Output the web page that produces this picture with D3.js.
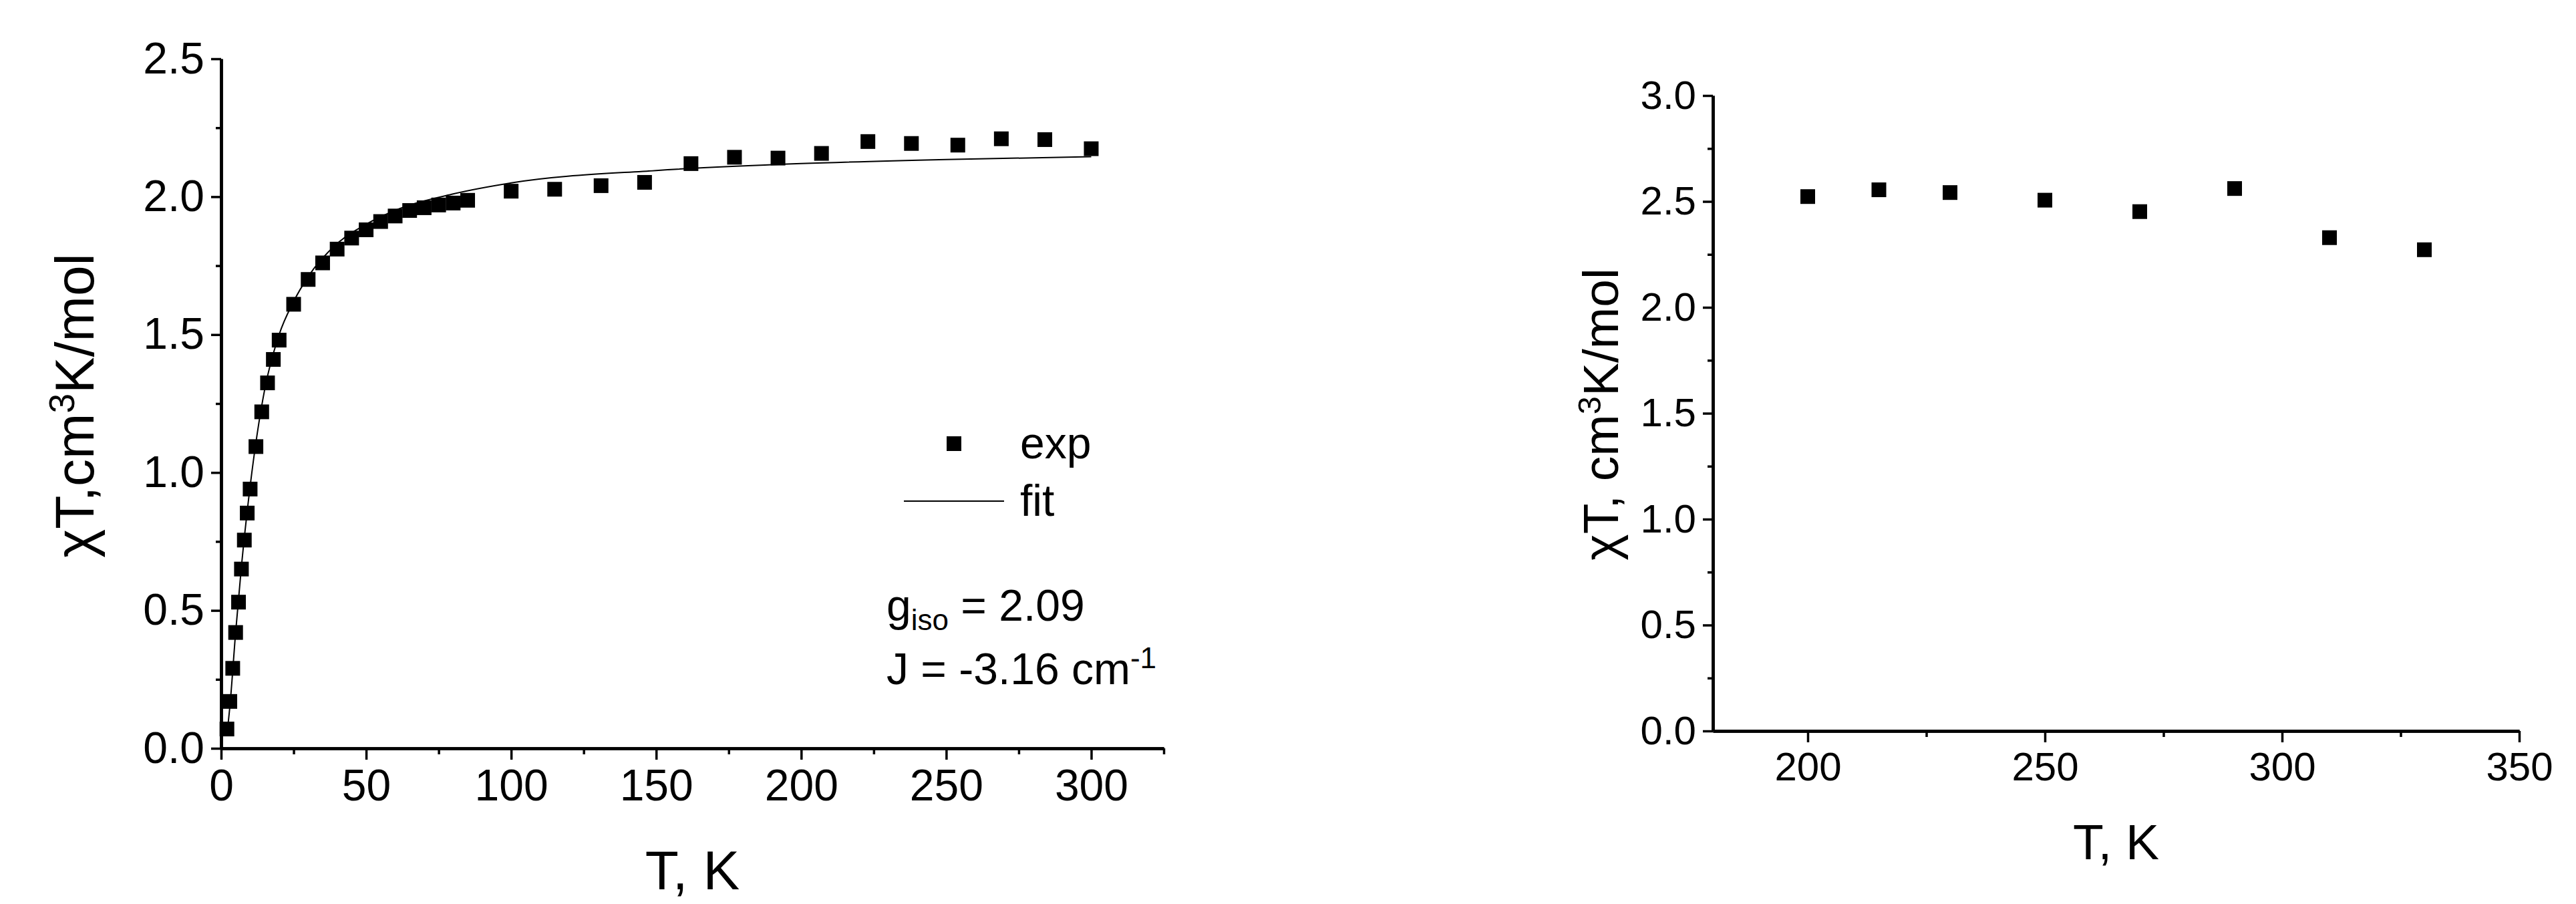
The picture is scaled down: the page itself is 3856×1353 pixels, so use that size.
<!DOCTYPE html>
<html><head><meta charset="utf-8">
<script src="https://cdn.jsdelivr.net/npm/d3@7"></script>
<style>body{margin:0;background:#fff}text{font-family:"Liberation Sans",Arial,sans-serif;fill:#000}</style>
</head><body>
<svg id="c" width="3856" height="1353"></svg>
<script>
const expT = [2,3,4,5,6,7,8,9,10,12,14,16,18,20,25,30,35,40,45,50,55,60,65,70,75,80,85,100,115,131,146,162,177,192,207,223,238,254,269,284,300];
const expChiT = [0.07,0.17,0.29,0.42,0.53,0.65,0.755,0.853,0.94,1.094,1.22,1.325,1.41,1.48,1.61,1.70,1.76,1.81,1.85,1.88,1.91,1.93,1.95,1.96,1.97,1.977,1.987,2.02,2.027,2.04,2.052,2.12,2.143,2.14,2.157,2.20,2.193,2.187,2.21,2.207,2.174];
const fitT = [2,3,5,7,10,15,20,25,30,40,50,60,80,100,150,200,250,300];
const fitChiT = [0.05,0.15,0.42,0.66,0.95,1.3,1.5,1.62,1.71,1.83,1.9,1.95,2.01,2.05,2.095,2.12,2.135,2.145];
const hiT = [200,215,230,250,270,290,310,330];
const hiChiT = [2.523,2.555,2.542,2.506,2.452,2.561,2.329,2.272];
const leftXTicks = [0,50,100,150,200,250,300];
const leftYTicks = [0,0.5,1,1.5,2,2.5];
const rightXTicks = [200,250,300,350];
const rightYTicks = [0,0.5,1,1.5,2,2.5,3];

const svg = d3.select("#c");

function panel(o){
  const g = svg.append("g");
  const x = d3.scaleLinear().domain(o.xd).range([o.x0,o.x1]);
  const y = d3.scaleLinear().domain(o.yd).range([o.y0,o.y1]);
  const xa = g.append("g").attr("transform",`translate(0,${o.y0})`)
    .call(d3.axisBottom(x).tickValues(o.xt).tickSize(17).tickPadding(14).tickSizeOuter(0).tickFormat(d3.format("d")));
  const xm = g.append("g").attr("transform",`translate(0,${o.y0})`)
    .call(d3.axisBottom(x).tickValues(o.xm).tickSize(9).tickFormat("").tickSizeOuter(0));
  const ya = g.append("g").attr("transform",`translate(${o.x0},0)`)
    .call(d3.axisLeft(y).tickValues(o.yt).tickSize(15).tickPadding(10).tickSizeOuter(0).tickFormat(d3.format(".1f")));
  const ym = g.append("g").attr("transform",`translate(${o.x0},0)`)
    .call(d3.axisLeft(y).tickValues(o.ym).tickSize(8).tickFormat("").tickSizeOuter(0));
  [xa,xm,ya,ym].forEach(a=>{a.select(".domain").attr("stroke-width",4.5);a.selectAll(".tick line").attr("stroke-width",3.5);
    a.selectAll("text").style("font-size",o.fs+"px").style("font-family","Liberation Sans, Arial, sans-serif");});
  g.append("text").attr("x",(o.x0+o.x1)/2+o.xtdx).attr("y",o.xty).attr("text-anchor","middle").style("font-size",o.tfs+"px").text("T, K");
  const yl = g.append("text").attr("transform",`translate(${o.ytx},${o.yty}) rotate(-90)`).attr("text-anchor","middle").style("font-size",o.tfs+"px");
  yl.append("tspan").text(o.ylab[0]);
  yl.append("tspan").attr("dy",-o.tfs*0.35).style("font-size",(o.tfs*0.65)+"px").text("3");
  yl.append("tspan").attr("dy",o.tfs*0.35).text("K/mol");
  return {g,x,y};
}

const L = panel({xd:[0,325],yd:[0,2.5],x0:331,x1:1742,y0:1120,y1:88,xt:leftXTicks,xm:[25,75,125,175,225,275,325],
  yt:leftYTicks,ym:[0.25,0.75,1.25,1.75,2.25],fs:66,tfs:82,xty:1331,xtdx:-0,ytx:140,yty:607,ylab:["χT,cm"]});
L.g.append("path").datum(fitT.map((t,i)=>[t,fitChiT[i]])).attr("fill","none").attr("stroke","#000").attr("stroke-width",2)
  .attr("d",d3.line().x(d=>L.x(d[0])).y(d=>L.y(d[1])).curve(d3.curveMonotoneX));
const s=22;
L.g.selectAll("rect.e").data(expT).enter().append("rect").attr("x",(d)=>L.x(d)-s/2).attr("y",(d,i)=>L.y(expChiT[i])-s/2).attr("width",s).attr("height",s);
// legend
L.g.append("rect").attr("x",1428-s/2).attr("y",664-s/2).attr("width",s).attr("height",s);
L.g.append("text").attr("x",1527).attr("y",686).style("font-size","66px").text("exp");
L.g.append("line").attr("x1",1353).attr("x2",1503).attr("y1",750).attr("y2",750).attr("stroke","#000").attr("stroke-width",2);
L.g.append("text").attr("x",1527).attr("y",772).style("font-size","66px").text("fit");
const t1=L.g.append("text").attr("x",1327).attr("y",929).style("font-size","66px");
t1.append("tspan").text("g");t1.append("tspan").attr("dy",14).style("font-size","44px").text("iso");t1.append("tspan").attr("dy",-14).text(" = 2.09");
const t2=L.g.append("text").attr("x",1327).attr("y",1024).style("font-size","66px");
t2.append("tspan").text("J = -3.16 cm");t2.append("tspan").attr("dy",-24).style("font-size","44px").text("-1");

const R = panel({xd:[180,350],yd:[0,3],x0:2564,x1:3771,y0:1094,y1:143,xt:rightXTicks,xm:[225,275,325],
  yt:rightYTicks,ym:[0.25,0.75,1.25,1.75,2.25,2.75],fs:60,tfs:75,xty:1286,xtdx:0,ytx:2422,yty:620,ylab:["χT, cm"]});
R.g.selectAll("rect.h").data(hiT).enter().append("rect").attr("x",d=>R.x(d)-s/2).attr("y",(d,i)=>R.y(hiChiT[i])-s/2).attr("width",s).attr("height",s);
</script>
</body></html>
